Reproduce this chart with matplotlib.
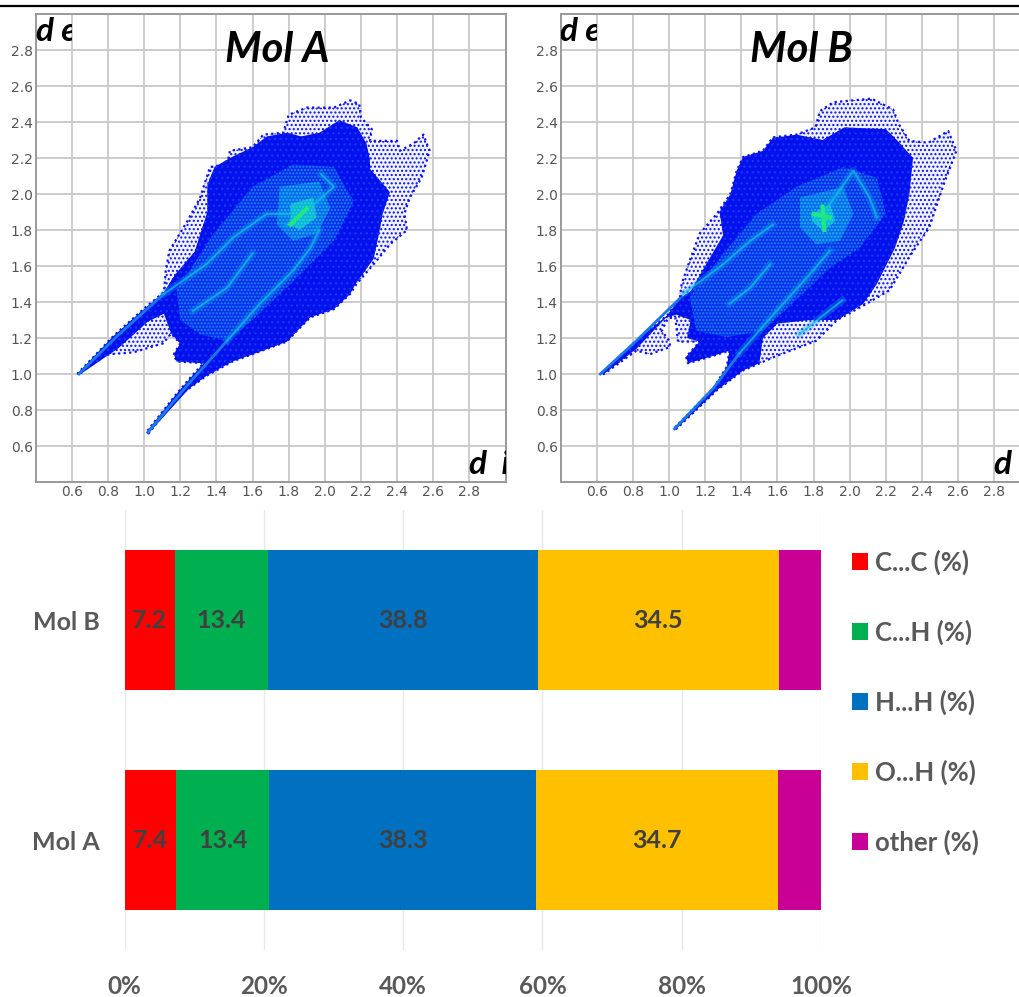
import matplotlib
matplotlib.use("Agg")
import matplotlib.pyplot as plt
from matplotlib.lines import Line2D
from matplotlib.patches import Patch, Polygon, Rectangle

plt.rcParams["font.family"] = ["Lato", "DejaVu Sans"]
plt.rcParams["hatch.linewidth"] = 1.0

W, H = 1019, 997

# fingerprint outlines (di, de)
mol_a_outline = [(.63, 1.00), (.83, 1.21), (.996, 1.36), (1.11, 1.455), (1.12, 1.575), (1.14, 1.685), (1.24, 1.85),
                 (1.31, 1.98), (1.365, 2.15), (1.46, 2.165), (1.475, 2.24), (1.60, 2.26), (1.66, 2.33), (1.77, 2.34),
                 (1.80, 2.44), (1.90, 2.48), (2.05, 2.48), (2.14, 2.52), (2.19, 2.50), (2.20, 2.425), (2.26, 2.36),
                 (2.25, 2.295), (2.40, 2.295), (2.415, 2.24), (2.49, 2.28), (2.545, 2.33), (2.58, 2.24), (2.535, 2.09),
                 (2.47, 1.98), (2.44, 1.89), (2.455, 1.80), (2.36, 1.72), (2.27, 1.61), (2.175, 1.50), (2.14, 1.445),
                 (2.05, 1.36), (1.92, 1.315), (1.845, 1.24), (1.79, 1.18), (1.68, 1.14), (1.49, 1.07), (1.345, .99),
                 (1.25, .92), (1.20, .89), (1.025, .67), (1.015, .68), (1.18, .89), (1.265, .99), (1.33, 1.06),
                 (1.18, 1.07), (1.165, 1.11), (1.20, 1.17), (1.15, 1.225), (1.105, 1.17), (.94, 1.12), (.81, 1.11),
                 (.755, 1.10), (.645, 1.00)]
mol_a_core = [(.63, 1.00), (.83, 1.21), (1.0, 1.36), (1.11, 1.455), (1.17, 1.55), (1.28, 1.68), (1.35, 1.90),
              (1.35, 2.05), (1.39, 2.15), (1.475, 2.20), (1.60, 2.26), (1.68, 2.32), (1.79, 2.34), (1.87, 2.32),
              (1.97, 2.34), (2.08, 2.41), (2.18, 2.37), (2.23, 2.28), (2.25, 2.19), (2.25, 2.14), (2.36, 2.01),
              (2.32, 1.89), (2.30, 1.78), (2.27, 1.64), (2.17, 1.50), (2.14, 1.445), (2.05, 1.36), (1.92, 1.315),
              (1.79, 1.18), (1.63, 1.12), (1.49, 1.07), (1.345, .99), (1.25, .92), (1.025, .67), (1.015, .68),
              (1.18, .89), (1.33, 1.06), (1.18, 1.07), (1.165, 1.11), (1.20, 1.17), (1.15, 1.225), (1.11, 1.335),
              (1.02, 1.29), (.86, 1.145), (.65, 1.00)]
mol_a_mid = [(1.18, 1.465), (1.385, 1.78), (1.60, 2.04), (1.825, 2.165), (2.05, 2.15), (2.16, 1.96), (2.05, 1.74),
             (1.92, 1.61), (1.81, 1.50), (1.60, 1.30), (1.46, 1.185), (1.31, 1.22), (1.20, 1.30)]
mol_a_blob = [(1.75, 2.04), (1.97, 2.07), (2.03, 1.92), (1.955, 1.78), (1.825, 1.74), (1.735, 1.83)]
mol_a_bright = [(1.81, 1.945), (1.935, 1.98), (1.955, 1.87), (1.86, 1.80), (1.81, 1.83)]
mol_a_streaks = [[(1.11, 1.445), (1.345, 1.61), (1.495, 1.76), (1.68, 1.89), (1.86, 1.89)],
                 [(1.27, 1.35), (1.46, 1.48), (1.60, 1.67)],
                 [(1.46, 1.185), (1.64, 1.39), (1.825, 1.575), (1.92, 1.70), (1.97, 1.80)],
                 [(1.98, 2.11), (2.05, 2.04), (1.92, 1.925), (1.79, 1.83)]]
mol_a_tails = [[(.64, 1.00), (.85, 1.21), (1.11, 1.445)], [(1.02, .675), (1.25, .95), (1.46, 1.185)]]
mol_a_green = [[(1.81, 1.83), (1.90, 1.92)]]

mol_b_outline = [(.62, 1.00), (.82, 1.185), (.99, 1.325), (1.06, 1.42), (1.07, 1.50), (1.115, 1.63), (1.17, 1.78),
                 (1.265, 1.89), (1.34, 2.00), (1.375, 2.13), (1.41, 2.205), (1.52, 2.24), (1.575, 2.315),
                 (1.705, 2.33), (1.81, 2.37), (1.835, 2.46), (1.91, 2.51), (2.12, 2.53), (2.24, 2.47), (2.27, 2.39),
                 (2.33, 2.295), (2.435, 2.285), (2.545, 2.35), (2.59, 2.24), (2.515, 2.04), (2.44, 1.815), (2.33, 1.65),
                 (2.22, 1.465), (2.075, 1.38), (1.93, 1.30), (1.815, 1.185), (1.595, 1.10), (1.41, 1.02), (1.265, .91),
                 (1.035, .69), (1.03, .70), (1.245, .92), (1.32, 1.04), (1.335, 1.13), (1.225, 1.095), (1.105, 1.06),
                 (1.095, 1.095), (1.17, 1.18), (1.05, 1.18), (1.035, 1.315), (.995, 1.31), (.96, 1.24), (1.005, 1.18),
                 (1.005, 1.15), (.895, 1.11), (.82, 1.13), (.64, 1.00)]
mol_b_core = [(.62, 1.00), (.82, 1.185), (.99, 1.325), (1.06, 1.42), (1.12, 1.46), (1.20, 1.60), (1.30, 1.77),
              (1.28, 1.90), (1.34, 2.00), (1.375, 2.13), (1.41, 2.205), (1.52, 2.24), (1.575, 2.31), (1.705, 2.33),
              (1.85, 2.30), (1.97, 2.37), (2.20, 2.36), (2.27, 2.29), (2.35, 2.20), (2.33, 2.0), (2.30, 1.85),
              (2.25, 1.70), (2.15, 1.50), (2.075, 1.39), (1.93, 1.30), (1.78, 1.30), (1.60, 1.28), (1.52, 1.20),
              (1.50, 1.06), (1.41, 1.02), (1.265, .91), (1.035, .69), (1.03, .70), (1.245, .92), (1.32, 1.04),
              (1.335, 1.13), (1.225, 1.095), (1.105, 1.06), (1.095, 1.095), (1.17, 1.18), (1.10, 1.20), (1.12, 1.30),
              (1.04, 1.33), (.98, 1.31), (.82, 1.14), (.64, 1.00)]
mol_b_mid = [(1.115, 1.43), (1.30, 1.67), (1.485, 1.89), (1.705, 2.04), (1.965, 2.15), (2.15, 2.09), (2.20, 1.89),
             (2.055, 1.70), (1.89, 1.59), (1.74, 1.445), (1.52, 1.24), (1.32, 1.205), (1.15, 1.24)]
mol_b_blob = [(1.725, 1.98), (1.965, 2.04), (2.02, 1.89), (1.945, 1.74), (1.815, 1.72), (1.725, 1.815)]
mol_b_bright = [(1.79, 1.89), (1.89, 1.945), (1.92, 1.85), (1.855, 1.795), (1.79, 1.85)]
mol_b_streaks = [[(1.08, 1.445), (1.30, 1.61), (1.45, 1.74), (1.575, 1.83)],
                 [(1.335, 1.39), (1.45, 1.48), (1.56, 1.61)],
                 [(1.39, 1.115), (1.595, 1.35), (1.78, 1.555), (1.89, 1.685)],
                 [(1.89, 1.945), (2.02, 2.13), (2.11, 1.98), (2.15, 1.87)],
                 [(1.72, 1.22), (1.96, 1.41)]]
mol_b_tails = [[(.62, 1.00), (.82, 1.185), (1.06, 1.42)], [(1.03, .695), (1.245, .92), (1.39, 1.115)]]
mol_b_green = [[(1.80, 1.89), (1.89, 1.87)], [(1.85, 1.93), (1.86, 1.80)]]

grid_ticks = [0.6, 0.8, 1.0, 1.2, 1.4, 1.6, 1.8, 2.0, 2.2, 2.4, 2.6, 2.8]

# stacked bars
molecules = ["Mol A", "Mol B"]
contact_names = ["C...C (%)", "C...H (%)", "H...H (%)", "O...H (%)", "other (%)"]
contact_colors = ["#FF0000", "#00B050", "#0070C0", "#FFC000", "#C90095"]
cc_values = [7.4, 7.2]
ch_values = [13.4, 13.4]
hh_values = [38.3, 38.8]
oh_values = [34.7, 34.5]
other_values = [6.2, 6.1]
pct_ticks = [0, 20, 40, 60, 80, 100]


def axes_px(fig, left, top, right, bottom):
    return fig.add_axes([left / W, 1 - bottom / H, (right - left) / W, (bottom - top) / H])


def fingerprint(ax, name, outline, core, mid, blob, bright, streaks, tails, green):
    ax.set_xlim(0.4, 3.0)
    ax.set_ylim(0.4, 3.0)
    ax.set_xticks(grid_ticks)
    ax.set_yticks(grid_ticks)
    ax.set_xticklabels(["%.1f" % t for t in grid_ticks], family="DejaVu Sans")
    ax.set_yticklabels(["%.1f" % t for t in grid_ticks], family="DejaVu Sans")
    ax.tick_params(length=0, labelsize=10, labelcolor="#555555", pad=2)
    ax.grid(color="#cccccc", lw=1.4)
    ax.set_axisbelow(True)
    for s in ax.spines.values():
        s.set_color("#999999")
        s.set_linewidth(1.4)

    # speckled fringe, then denser layers on top
    ax.add_patch(Polygon(outline, facecolor="#f0f2ff", edgecolor="#0a10f0", hatch="....", lw=0, zorder=2))
    xs, ys = zip(*(outline + outline[:1]))
    ax.plot(xs, ys, color="#0a10f0", lw=1.6, ls=(0, (1, 1.5)), zorder=2.1)
    ax.add_patch(Polygon(core, facecolor="#0410ee", edgecolor="#1238f0", hatch="...", lw=0, zorder=3))
    ax.add_patch(Polygon(mid, facecolor="#0630ee", edgecolor="#2088f0", hatch=".....", lw=0, zorder=3.1))
    ax.add_patch(Polygon(blob, facecolor="#0a68f0", edgecolor="#1cc0e8", hatch=".....", lw=0, zorder=3.2))
    for line in tails:
        xs, ys = zip(*line)
        ax.plot(xs, ys, color="#1a78e8", lw=2, zorder=3.3)
    for line in streaks:
        xs, ys = zip(*line)
        ax.plot(xs, ys, color="#0e9cea", lw=5, alpha=0.35, zorder=3.3)
        ax.plot(xs, ys, color="#12c4e0", lw=1.4, alpha=0.7, zorder=3.4)
    ax.add_patch(Polygon(bright, facecolor="#10b0e0", edgecolor="#20e0c0", hatch=".....", lw=0, zorder=3.5))
    for line in green:
        xs, ys = zip(*line)
        ax.plot(xs, ys, color="#20e880", lw=3, zorder=3.6)

    ax.text(1.734, 2.8, name, ha="center", va="center", fontsize=30,
            fontweight="bold", fontstyle="italic", color="black", zorder=5)
    # axis names are cut off by the panel in the figure
    de = ax.text(0.4, 2.905, "d e", ha="left", va="center", fontsize=24, fontweight="bold",
                 fontstyle="italic", color="black", zorder=5)
    de.set_clip_on(True)
    de.set_clip_path(Rectangle((0.4, 2.7), 0.2, 0.3, transform=ax.transData))
    di = ax.text(2.8, 0.495, "d  i", ha="left", va="center", fontsize=24, fontweight="bold",
                 fontstyle="italic", color="black", zorder=5)
    di.set_clip_on(True)
    di.set_clip_path(ax.patch)


fig = plt.figure(figsize=(W / 100, H / 100), dpi=100)
fig.add_artist(Line2D([0, 1], [1 - 5.7 / H, 1 - 5.7 / H], color="black", lw=1.6))

ax_a = axes_px(fig, 35.6, 14, 505.6, 482)
fingerprint(ax_a, "Mol A", mol_a_outline, mol_a_core, mol_a_mid, mol_a_blob, mol_a_bright,
            mol_a_streaks, mol_a_tails, mol_a_green)
ax_b = axes_px(fig, 560.5, 14, 1030.5, 482)
fingerprint(ax_b, "Mol B", mol_b_outline, mol_b_core, mol_b_mid, mol_b_blob, mol_b_bright,
            mol_b_streaks, mol_b_tails, mol_b_green)

ax = axes_px(fig, 124.5, 510, 821, 950)
series = [cc_values, ch_values, hh_values, oh_values, other_values]
left = [0, 0]
for idx, vals in enumerate(series):
    bars = ax.barh(molecules, vals, left=left, height=0.64, color=contact_colors[idx], zorder=2)
    if idx < 4:
        ax.bar_label(bars, labels=["%.1f" % v for v in vals], label_type="center", fontsize=18,
                     fontweight="bold", color="#404040")
    left = [a + b for a, b in zip(left, vals)]
ax.set_xlim(0, 100)
ax.set_ylim(-0.5, 1.5)
ax.set_xticks(pct_ticks)
ax.set_xticklabels(["%d%%" % p for p in pct_ticks])
ax.grid(axis="x", color="#e8e8e8", lw=1)
ax.set_axisbelow(True)
ax.tick_params(axis="x", length=0, pad=18, labelsize=17.5, labelcolor="#595959")
ax.tick_params(axis="y", length=0, pad=18, labelsize=18, labelcolor="#595959")
for label in ax.get_xticklabels() + ax.get_yticklabels():
    label.set_fontweight("bold")
for s in ax.spines.values():
    s.set_visible(False)

handles = [Patch(facecolor=c, label=n) for c, n in zip(contact_colors, contact_names)]
leg = ax.legend(handles=handles, loc="center left", bbox_to_anchor=(852 / W, 1 - 702 / H),
                bbox_transform=fig.transFigure, frameon=False, fontsize=18.5, handlelength=0.62,
                handleheight=0.62, handletextpad=0.27, labelspacing=1.74, borderpad=0, borderaxespad=0)
for t in leg.get_texts():
    t.set_color("#595959")
    t.set_fontweight("bold")

fig.savefig("out.png", dpi=100)
